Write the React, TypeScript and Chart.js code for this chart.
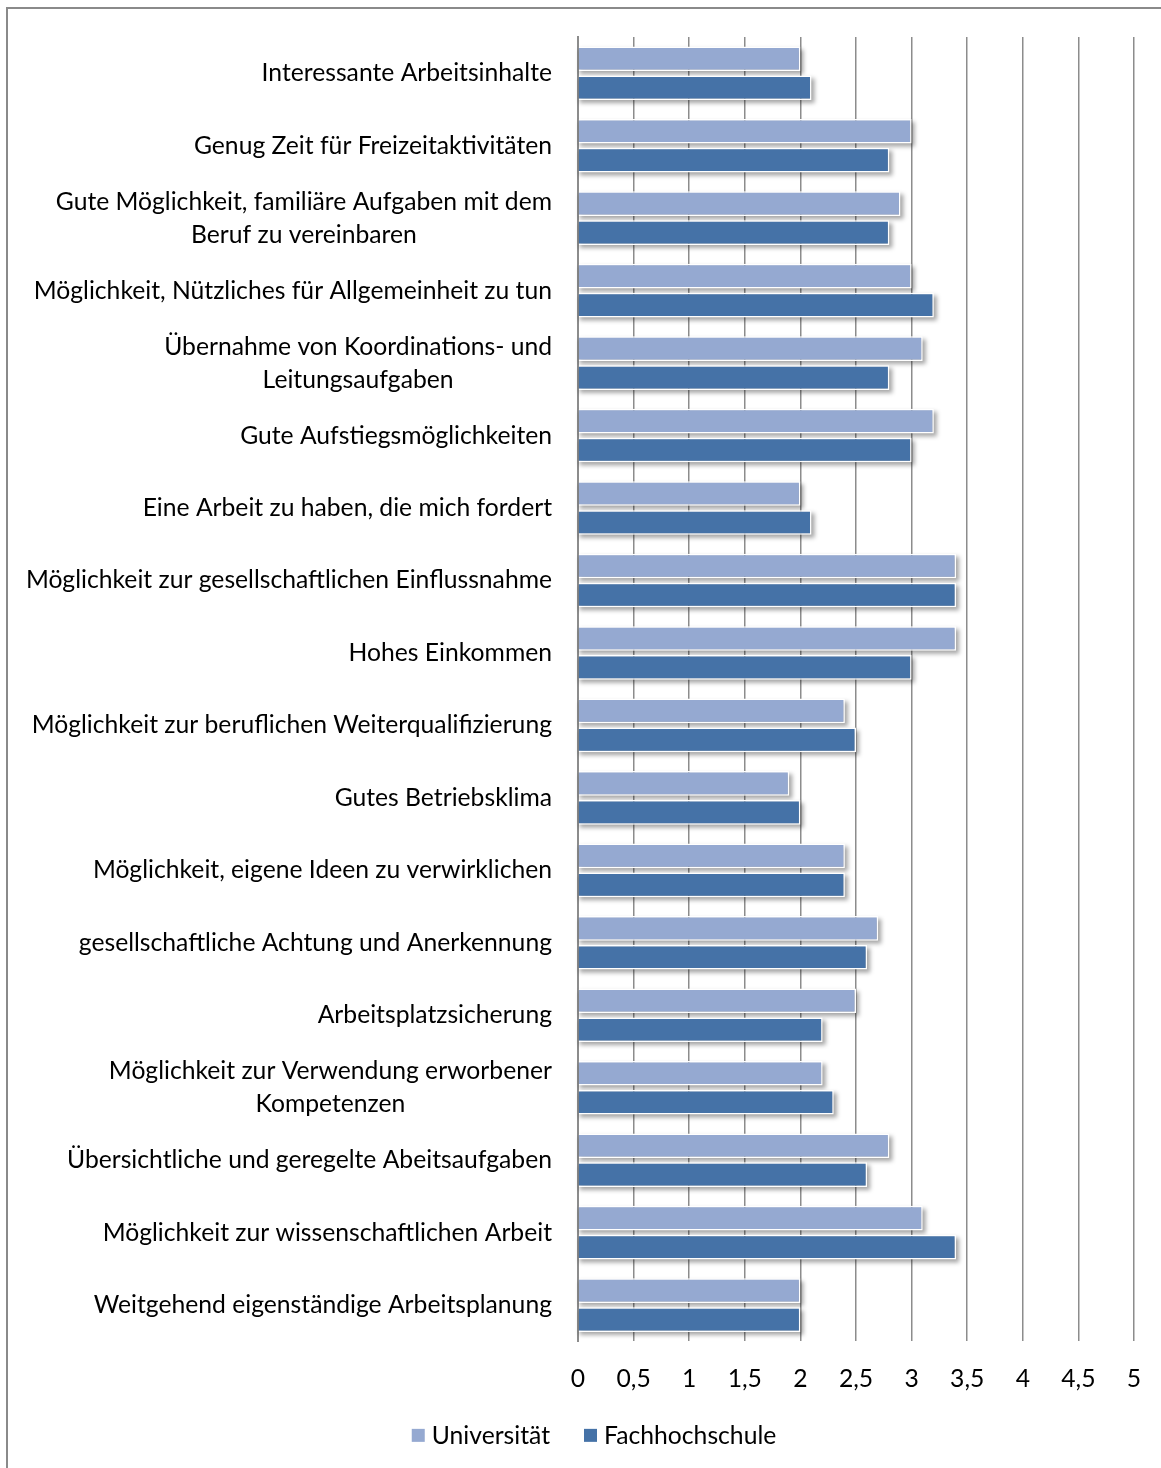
import React, { useEffect, useRef } from "react";
import { Chart, registerables } from "chart.js";

Chart.register(...registerables);

// Survey items (multi-line items are given as arrays of lines)
const categories: (string | string[])[] = [
  "Interessante Arbeitsinhalte",
  "Genug Zeit für Freizeitaktivitäten",
  ["Gute Möglichkeit, familiäre Aufgaben mit dem", "Beruf zu vereinbaren"],
  "Möglichkeit, Nützliches für Allgemeinheit zu tun",
  ["Übernahme von Koordinations- und", "Leitungsaufgaben"],
  "Gute Aufstiegsmöglichkeiten",
  "Eine Arbeit zu haben, die mich fordert",
  "Möglichkeit zur gesellschaftlichen Einflussnahme",
  "Hohes Einkommen",
  "Möglichkeit zur beruflichen Weiterqualifizierung",
  "Gutes Betriebsklima",
  "Möglichkeit, eigene Ideen zu verwirklichen",
  "gesellschaftliche Achtung und Anerkennung",
  "Arbeitsplatzsicherung",
  ["Möglichkeit zur Verwendung erworbener", "Kompetenzen"],
  "Übersichtliche und geregelte Abeitsaufgaben",
  "Möglichkeit zur wissenschaftlichen Arbeit",
  "Weitgehend eigenständige Arbeitsplanung",
];

const universitaet = [2.0, 3.0, 2.9, 3.0, 3.1, 3.2, 2.0, 3.4, 3.4, 2.4, 1.9, 2.4, 2.7, 2.5, 2.2, 2.8, 3.1, 2.0];
const fachhochschule = [2.1, 2.8, 2.8, 3.2, 2.8, 3.0, 2.1, 3.4, 3.0, 2.5, 2.0, 2.4, 2.6, 2.2, 2.3, 2.6, 3.4, 2.0];

const seriesNames = ["Universität", "Fachhochschule"];
const seriesColors = ["#95a9d1", "#4572a7"];
const xMin = 0;
const xMax = 5;
const xStep = 0.5;

const FONT = "Lato, 'Open Sans', sans-serif";
const FONT_SIZE = 24.7;

// Outer chart frame
const framePlugin = {
  id: "frame",
  beforeDraw(chart: any) {
    const ctx = chart.ctx;
    ctx.save();
    ctx.fillStyle = "#ffffff";
    ctx.fillRect(0, 0, chart.width, chart.height);
    ctx.strokeStyle = "#8a8a8a";
    ctx.lineWidth = 2;
    ctx.strokeRect(7, 8, chart.width + 20, chart.height + 20);
    ctx.restore();
  },
};

// Soft drop shadow under each bar
const shadowPlugin = {
  id: "barShadow",
  beforeDatasetsDraw(chart: any) {
    const ctx = chart.ctx;
    ctx.save();
    ctx.filter = "blur(2px)";
    ctx.fillStyle = "rgba(0,0,0,0.35)";
    chart.data.datasets.forEach((_: any, di: number) => {
      const meta = chart.getDatasetMeta(di);
      meta.data.forEach((el: any) => {
        const p = el.getProps(["x", "y", "base", "height"], true);
        const left = Math.min(p.x, p.base);
        const w = Math.abs(p.x - p.base);
        ctx.fillRect(left + 1, p.y - p.height / 2 + 3, w + 2, p.height);
      });
    });
    ctx.restore();
  },
};

// Category labels: block right-aligned to the axis, lines centred within the block
const categoryLabelPlugin = {
  id: "categoryLabels",
  afterDraw(chart: any) {
    const ctx = chart.ctx;
    const yScale = chart.scales.y;
    const right = chart.chartArea.left - 26;
    ctx.save();
    ctx.font = `${FONT_SIZE}px ${FONT}`;
    ctx.fillStyle = "#000000";
    ctx.textAlign = "center";
    ctx.textBaseline = "middle";
    categories.forEach((lab, i) => {
      const lines = Array.isArray(lab) ? lab : [lab];
      const w = Math.max(...lines.map((l) => ctx.measureText(l).width));
      const cx = right - w / 2;
      const cy = yScale.getPixelForValue(i);
      lines.forEach((l, k) => {
        ctx.fillText(l, cx, cy + (k - (lines.length - 1) / 2) * 33);
      });
    });
    ctx.restore();
  },
};

// Legend row below the value axis
const legendPlugin = {
  id: "bottomLegend",
  afterDraw(chart: any) {
    const ctx = chart.ctx;
    const box = 13;
    const gapText = 7;
    const gapItem = 34;
    ctx.save();
    ctx.font = `${FONT_SIZE}px ${FONT}`;
    ctx.textBaseline = "middle";
    ctx.textAlign = "left";
    const items = chart.data.datasets.map((d: any) => ({
      text: d.label,
      color: d.backgroundColor,
      w: box + gapText + ctx.measureText(d.label).width,
    }));
    const total = items.reduce((s: number, it: any) => s + it.w, 0) + gapItem * (items.length - 1);
    const cx = (chart.chartArea.left + chart.chartArea.right) / 2 - 262;
    const cy = chart.chartArea.bottom + 94;
    let x = cx - total / 2;
    items.forEach((it: any) => {
      ctx.fillStyle = it.color;
      ctx.fillRect(x, cy - box / 2, box, box);
      ctx.fillStyle = "#000000";
      ctx.fillText(it.text, x + box + gapText, cy + 1);
      x += it.w + gapItem;
    });
    ctx.restore();
  },
};

export default function App() {
  const canvasRef = useRef<HTMLCanvasElement | null>(null);

  useEffect(() => {
    if (!canvasRef.current) return;
    const chart = new Chart(canvasRef.current, {
      type: "bar",
      data: {
        labels: categories.map((c) => (Array.isArray(c) ? c.join(" ") : c)),
        datasets: [
          {
            label: seriesNames[0],
            data: universitaet,
            backgroundColor: seriesColors[0],
            borderColor: "#ffffff",
            borderWidth: 1.5,
            categoryPercentage: 0.8,
            barPercentage: 0.85,
          },
          {
            label: seriesNames[1],
            data: fachhochschule,
            backgroundColor: seriesColors[1],
            borderColor: "#ffffff",
            borderWidth: 1.5,
            categoryPercentage: 0.8,
            barPercentage: 0.85,
          },
        ],
      },
      options: {
        indexAxis: "y",
        responsive: false,
        animation: false,
        layout: { padding: { top: 37, right: 27, left: 54, bottom: 51 } },
        scales: {
          x: {
            min: xMin,
            max: xMax,
            grid: { color: "#8c8c8c", lineWidth: 1.5, drawTicks: false },
            border: { display: false },
            ticks: {
              stepSize: xStep,
              padding: 23,
              color: "#000000",
              font: { family: FONT, size: FONT_SIZE },
              callback: (v: any) => String(v).replace(".", ","),
            },
            afterFit: (scale: any) => {
              scale.paddingLeft = 0;
              scale.paddingRight = 0;
            },
          },
          y: {
            grid: { display: false },
            border: { display: true, color: "#8c8c8c", width: 2 },
            ticks: { display: false },
            afterFit: (scale: any) => {
              scale.width = 524;
            },
          },
        },
        plugins: {
          legend: { display: false },
          tooltip: { enabled: false },
        },
      },
      plugins: [framePlugin, shadowPlugin, categoryLabelPlugin, legendPlugin],
    });
    return () => chart.destroy();
  }, []);

  return (
    <div style={{ position: "absolute", left: 0, top: 0, width: 1161, height: 1468 }}>
      <canvas ref={canvasRef} width={1161} height={1468} />
    </div>
  );
}
